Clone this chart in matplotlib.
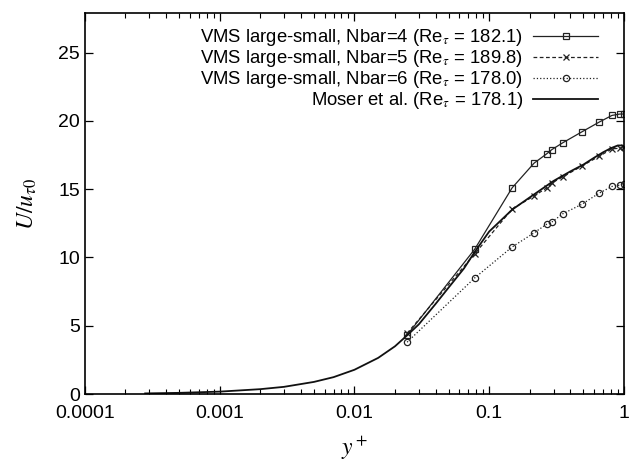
import matplotlib
matplotlib.use("Agg")
import matplotlib.pyplot as plt
from matplotlib.ticker import LogLocator, FixedLocator, NullFormatter, FixedFormatter

plt.rcParams['font.family'] = ['Liberation Sans', 'DejaVu Sans']
plt.rcParams['mathtext.fontset'] = 'stix'

# VMS data (y/delta, U/u_tau0)
y_vms = [0.0246, 0.078, 0.148, 0.215, 0.268, 0.292, 0.352, 0.488, 0.652, 0.815, 0.933, 1.0]
u_n4 = [4.32, 10.6, 15.1, 16.9, 17.6, 17.9, 18.4, 19.2, 19.9, 20.4, 20.5, 20.5]
u_n5 = [4.45, 10.26, 13.55, 14.5, 15.1, 15.46, 15.9, 16.7, 17.4, 17.95, 18.0, 18.05]
u_n6 = [3.8, 8.5, 10.77, 11.8, 12.45, 12.6, 13.2, 13.9, 14.7, 15.2, 15.3, 15.35]

# Moser et al. DNS
y_dns = [0.00028, 0.0005, 0.001, 0.002, 0.003, 0.005, 0.007, 0.01, 0.015, 0.02,
         0.0246, 0.03, 0.04, 0.05, 0.065, 0.078, 0.1, 0.148, 0.2, 0.3, 0.4, 0.5,
         0.6, 0.7, 0.8, 0.9, 0.95, 1.0]
u_dns = [0.05, 0.09, 0.18, 0.36, 0.53, 0.89, 1.24, 1.78, 2.65, 3.5,
         4.3, 5.1, 6.6, 7.8, 9.2, 10.4, 11.9, 13.5, 14.4, 15.6, 16.3, 16.8,
         17.3, 17.7, 18.0, 18.2, 18.2, 18.15]

labels = [r'VMS large-small, Nbar=4 (Re$_\tau$ = 182.1)',
          r'VMS large-small, Nbar=5 (Re$_\tau$ = 189.8)',
          r'VMS large-small, Nbar=6 (Re$_\tau$ = 178.0)',
          r'Moser et al. (Re$_\tau$ = 178.1)']

fig = plt.figure(figsize=(6.29, 4.62), dpi=100)
ax = fig.add_axes([0.135, 0.147, 0.857, 0.825])

ax.plot(y_vms, u_n4, '-', color='#222222', lw=0.9, marker='s', ms=4.5,
        mfc='none', mec='#222222', mew=0.9, label=labels[0])
ax.plot(y_vms, u_n5, '--', color='#222222', lw=0.9, marker='x', ms=4.5,
        mec='#222222', mew=0.9, dashes=(3, 2), label=labels[1])
ax.plot(y_vms, u_n6, ':', color='#222222', lw=0.9, marker='o', ms=4.5,
        mfc='none', mec='#222222', mew=0.9, label=labels[2])
ax.plot(y_dns, u_dns, '-', color='#111111', lw=1.3, label=labels[3])

ax.set_xscale('log')
ax.set_xlim(1e-4, 1)
ax.set_ylim(0, 27.9)
ax.xaxis.set_major_locator(FixedLocator([1e-4, 1e-3, 1e-2, 1e-1, 1]))
ax.xaxis.set_major_formatter(FixedFormatter(['0.0001', '0.001', '0.01', '0.1', '1']))
ax.xaxis.set_minor_locator(LogLocator(base=10, subs=range(2, 10)))
ax.xaxis.set_minor_formatter(NullFormatter())
ax.set_yticks([0, 5, 10, 15, 20, 25])

ax.tick_params(which='both', direction='in', top=True, right=True, labelsize=14)
ax.tick_params(which='major', length=6, width=0.9)
ax.tick_params(which='minor', length=3.5, width=0.8)
ax.tick_params(axis='x', pad=8)
for s in ax.spines.values():
    s.set_linewidth(1.2)

ax.set_xlabel(r'$y^+$', fontsize=17, labelpad=9)
ax.set_ylabel(r'$U/u_{\tau 0}$', fontsize=17, labelpad=14)

leg = ax.legend(loc='upper right', frameon=False, markerfirst=False, fontsize=13.3,
                handlelength=3.5, handletextpad=0.55, labelspacing=0.0,
                borderaxespad=0.0, borderpad=0.0,
                bbox_to_anchor=(0.952, 0.963))

fig.savefig('out.png', dpi=100)
